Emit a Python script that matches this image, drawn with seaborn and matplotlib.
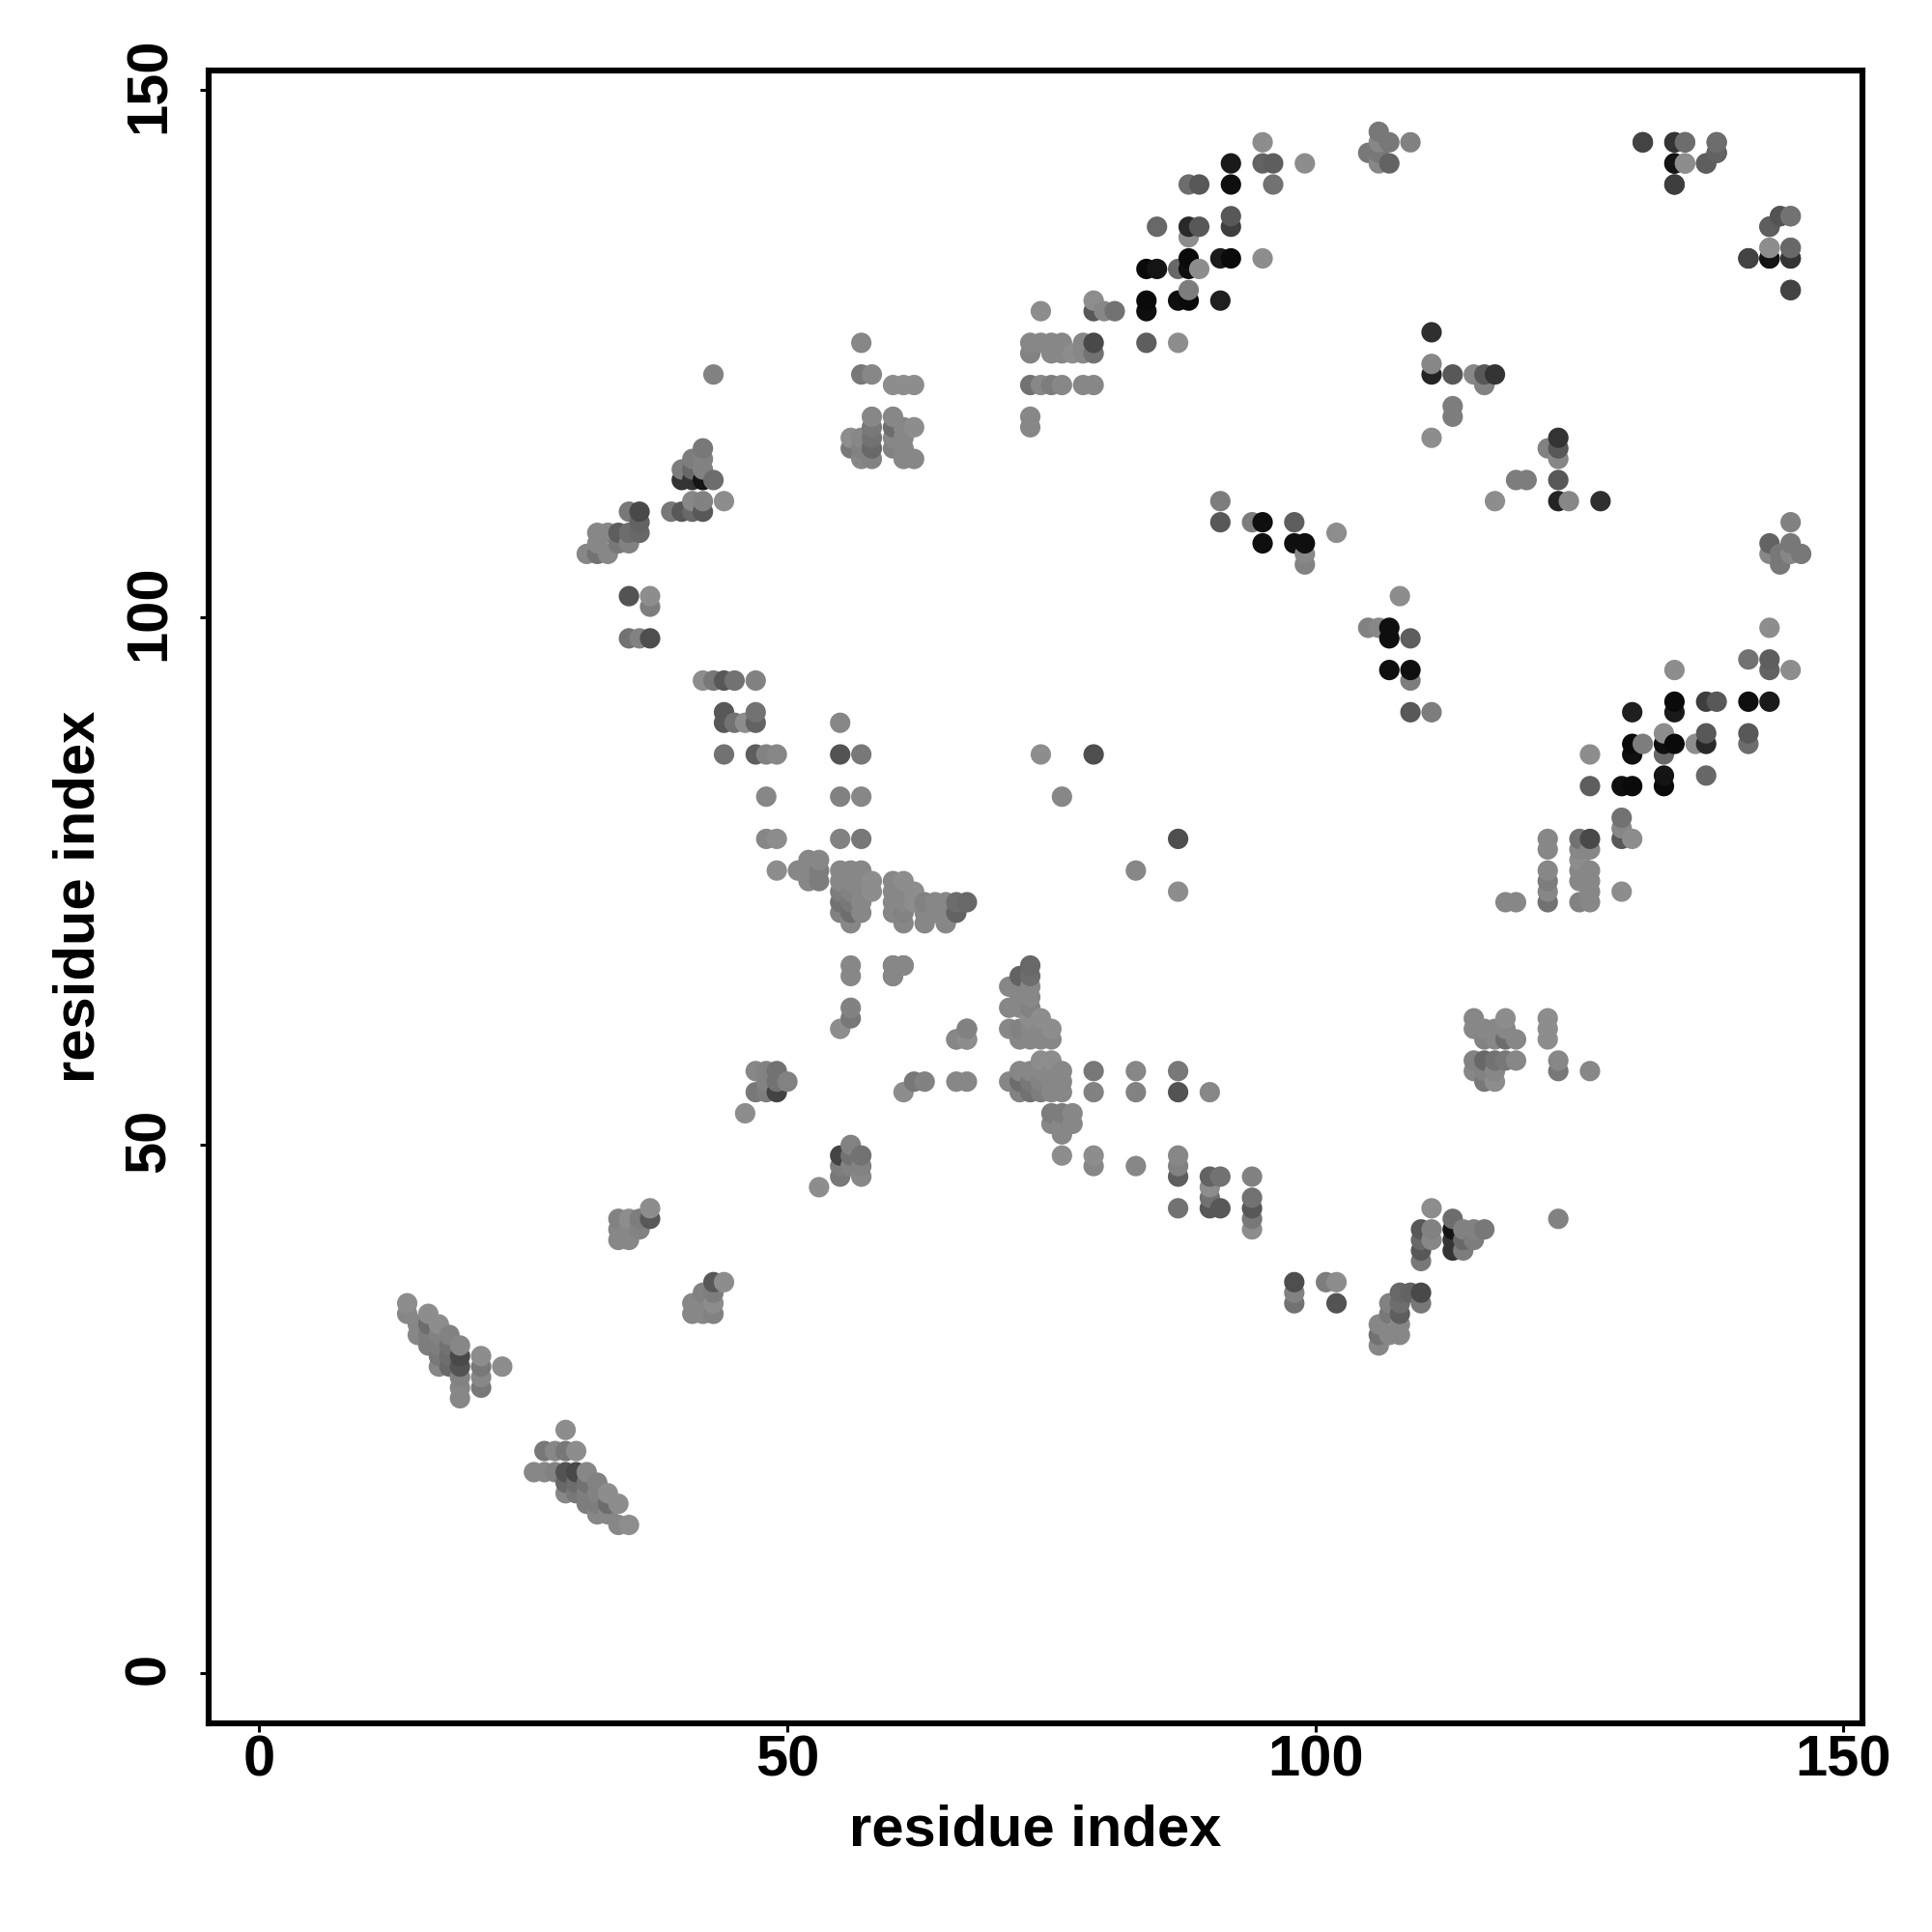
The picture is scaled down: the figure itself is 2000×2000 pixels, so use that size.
import pandas as pd
import matplotlib
matplotlib.use('Agg')
import matplotlib.pyplot as plt
from matplotlib.transforms import ScaledTranslation
import seaborn as sns

# contacts, as (residue i, residue j, grey level 0-255)
# only the i < j half is listed, the map is symmetric
hairpin_a = [(14,35,135),(14,34,130),(15,33,130),(15,32,130),(16,34,135),(16,33,105),
             (16,32,120),(16,31,120),(17,33,135),(17,32,125),(17,31,120),(17,30,115),
             (17,29,130),(18,32,125),(18,31,110),(18,30,105),(18,29,100),(19,31,130),
             (19,30,70),(19,29,80),(19,28,125),(19,27,130),(19,26,130),(21,30,135),
             (21,29,115),(21,28,130),(21,27,115),(23,29,135)]
strand_b = [(34,43,125),(34,42,130),(34,41,130),(35,43,135),(35,42,130),(35,41,130),
            (36,43,120),(36,42,125),(37,44,135),(37,43,85)]
row_94 = [(42,94,135),(43,94,115),(44,94,85),(45,94,110),(47,94,125)]
col_44_49 = [(44,91,85),(44,90,85),(45,90,110),(46,90,135),(47,91,110),(47,90,95),
             (44,87,110),(47,87,90),(48,87,125),(49,87,130),(48,83,130),(48,79,130),
             (49,79,135),(49,76,135)]
col_55_57 = [(55,90,130),(55,87,80),(57,87,115),(55,83,125),(57,83,130),(55,79,125),
             (57,79,115),(74,87,135),(79,87,75),(76,83,130)]
block_52_53 = [(51,76,130),(52,77,130),(53,77,130),(52,76,130),(53,76,120),(52,75,130),
               (53,75,120)]
block_55_58 = [(55,76,130),(55,75,130),(55,74,120),(55,73,110),(55,72,125),(56,76,130),
               (56,75,130),(56,74,125),(56,73,115),(56,72,105),(56,71,130),(57,76,130),
               (57,75,130),(57,74,130),(57,73,130),(57,72,130),(58,75,135),(58,74,135)]
block_60_67 = [(60,75,130),(60,74,130),(60,73,130),(60,72,130),(61,75,135),(61,74,130),
               (61,73,130),(61,72,125),(61,71,130),(62,74,135),(62,73,135),(63,73,125),
               (63,72,130),(63,71,130),(64,73,130),(64,72,130),(65,73,130),(65,72,130),
               (65,71,130),(66,73,105),(66,72,95),(67,73,100)]
near_helix = [(56,67,130),(56,66,130),(60,67,135),(61,67,125),(60,66,130),(56,63,125),
              (56,62,115),(55,61,135),(67,61,130),(66,60,130),(67,60,130)]
block_47_50 = [(47,57,130),(48,57,125),(49,57,110),(50,56,125),(48,56,125),(49,56,110),
               (47,55,115),(48,55,120),(49,55,65),(46,53,135),(55,61,130),(56,62,115),
               (56,63,130),(56,66,130),(56,67,130)]
block_57_62 = [(57,126,130),(57,123,115),(58,123,130),(60,122,135),(61,122,135),(62,122,135),
               (56,117,135),(56,116,115),(57,117,130),(57,116,125),(57,115,130),(58,119,130),
               (58,118,115),(58,117,110),(58,116,100),(58,115,125),(60,119,130),(60,118,105),
               (60,117,130),(60,116,125),(61,118,130),(61,117,130),(61,116,130),(61,115,130),
               (62,118,135),(62,115,130)]
strand_c = [(43,123,125),(42,116,115),(41,115,120),(42,115,125),(40,114,120),(41,114,100),
            (42,114,125),(40,113,50),(41,113,50),(42,113,20),(43,113,105),(41,111,130),
            (42,111,125),(44,111,135),(39,110,115),(40,110,85),(41,110,100),(42,110,85)]
strand_d = [(35,110,115),(36,110,70),(36,109,95),(36,108,100),(35,108,105),(34,108,90),
            (33,108,130),(32,108,130),(32,107,130),(34,107,115),(35,107,125),(31,106,130),
            (32,106,110),(33,106,130),(35,102,80),(37,102,135),(37,101,120),(35,98,110),
            (36,98,125),(37,98,75)]
sheet_e = [(95,145,135),(92,143,25),(95,143,95),(96,143,90),(99,143,135),(88,141,105),
           (89,141,85),(92,141,15),(96,141,110),(85,137,100),(88,137,40),(89,137,85),
           (92,138,85),(92,137,60),(88,136,135),(88,134,10),(91,134,25),(92,134,10),
           (95,134,135),(84,133,10),(85,133,20),(87,133,100),(88,133,15),(89,133,135),
           (88,131,120),(87,130,15),(88,130,10),(91,130,30),(84,130,10),(84,129,15),
           (79,130,135),(79,129,85),(80,129,130),(81,129,110),(74,129,135),(84,126,90),
           (87,126,135)]
row_122_126 = [(79,126,70),(78,126,130),(76,126,130),(75,126,130),(74,126,130),(73,126,130),
               (79,125,110),(78,125,130),(77,125,135),(76,125,130),(75,125,130),(73,125,125),
               (73,122,110),(74,122,130),(75,122,120),(76,122,130),(78,122,130),(79,122,130),
               (73,119,130),(73,118,130)]
corner_f = [(106,146,115),(105,144,115),(106,145,130),(107,145,115),(106,144,115),(106,143,130),
            (107,143,95),(109,145,125)]
corner_g = [(131,145,65),(134,145,50),(135,145,100),(138,145,110),(138,144,80),(137,143,90),
            (134,143,20),(135,143,135),(134,141,65),(144,138,95),(145,138,105),(143,137,90),
            (143,135,135),(145,135,105),(141,134,60),(143,134,20),(145,134,50),(145,131,65)]
strand_h = [(111,127,45),(111,124,130),(111,123,35),(113,123,85),(115,123,130),(116,123,85),
            (117,123,50),(116,122,125),(113,120,120),(113,119,120),(111,117,135)]
strand_i = [(94,109,120),(95,109,15),(98,109,90),(95,107,15),(98,107,15),(99,107,15),
            (99,106,130),(99,105,125),(102,108,135),(91,109,85),(91,111,120)]

tick_values = [0, 50, 100, 150]
axis_label = 'residue index'

groups = [hairpin_a, strand_b, row_94, col_44_49, col_55_57, block_52_53, block_55_58,
          block_60_67, near_helix, block_47_50, block_57_62, strand_c, strand_d, sheet_e,
          row_122_126, corner_f, corner_g, strand_h, strand_i]

# ----------------------------------------------------------------------------

sns.set_style('white')
plt.rcParams['font.family'] = ['Liberation Sans', 'DejaVu Sans']
plt.rcParams['font.weight'] = 'bold'

half = pd.DataFrame([c for g in groups for c in g], columns=['i', 'j', 'shade'])
half = half.drop_duplicates(subset=['i', 'j'])
mirror = half.rename(columns={'i': 'j', 'j': 'i'})
contacts = pd.concat([half, mirror]).sort_values(['i', 'j'])

fig = plt.figure(figsize=(10, 10), dpi=200, facecolor='white')
ax = fig.add_axes([216/2000, 1-1784/2000, (1928-216)/2000, (1784-73)/2000])

sns.scatterplot(data=contacts, x='i', y='j', hue='shade', palette='gray',
                hue_norm=(0, 245), s=58, linewidth=0, legend=False, ax=ax)

ax.set_xlim(-4.8, 151.8)
ax.set_ylim(-4.8, 151.8)
ax.set_xticks(tick_values)
ax.set_yticks(tick_values)
ax.tick_params(axis='both', bottom=True, left=True, length=3.4, width=1.1, color='black',
               labelsize=21.5, labelcolor='black')
ax.tick_params(axis='x', pad=0.7)
ax.tick_params(axis='y', pad=8.7)
nudge = ScaledTranslation(0, 1.6/72, fig.dpi_scale_trans)
for lab in ax.get_yticklabels():
    lab.set_rotation(90)
    lab.set_va('center')
    lab.set_transform(lab.get_transform() + nudge)
for spine in ax.spines.values():
    spine.set_visible(True)
    spine.set_color('black')
    spine.set_linewidth(2.2)
ax.set_xlabel(axis_label, fontsize=21.5, fontweight='bold', color='black', labelpad=6.2)
ax.set_ylabel(axis_label, fontsize=21.5, fontweight='bold', color='black', labelpad=6.3)

plt.savefig('out.png', dpi=200, facecolor='white')
plt.close(fig)
